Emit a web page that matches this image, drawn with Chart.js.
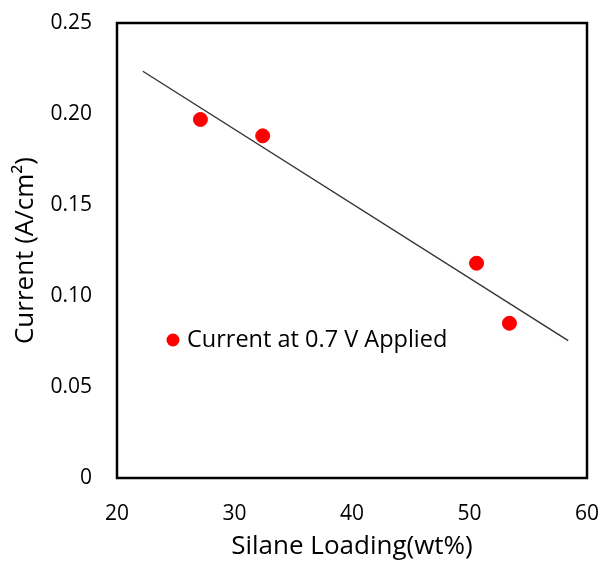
<!DOCTYPE html>
<html>
<head>
<meta charset="utf-8">
<script src="https://cdn.jsdelivr.net/npm/chart.js@4"></script>
<style>
  html, body { margin: 0; padding: 0; background: #fff; }
  #wrap { width: 599px; height: 562px; }
</style>
</head>
<body>
<div id="wrap"><canvas id="myChart" width="599" height="562"></canvas></div>
<script>
// data
const loading = [27.1, 32.4, 50.6, 53.4];
const current = [0.197, 0.188, 0.118, 0.085];
const trendX = [22.2, 58.4];
const trendY = [0.2235, 0.0755];
const seriesLabel = "Current at 0.7 V Applied";

const FONT = "'Open Sans', 'Noto Sans', sans-serif";

function toPoints(xs, ys) {
  let pts = [];
  xs.forEach((x, i) => {
    pts.push({ x: x, y: ys[i] });
  });
  return pts;
}

// box round the plot area and the legend inside it
const frameAndLegend = {
  id: "frameAndLegend",
  afterDraw(chart) {
    const ctx = chart.ctx;
    const a = chart.chartArea;
    ctx.save();
    ctx.strokeStyle = "#000";
    ctx.lineWidth = 2.5;
    ctx.strokeRect(a.left, a.top, a.right - a.left, a.bottom - a.top);

    const lx = a.left + 56;
    const ly = a.top + 317;
    ctx.fillStyle = "#ff0000";
    ctx.beginPath();
    ctx.arc(lx, ly, 6.5, 0, Math.PI * 2);
    ctx.fill();
    ctx.fillStyle = "#000";
    ctx.font = "23.5px " + FONT;
    ctx.textBaseline = "middle";
    ctx.fillText(chart.data.datasets[0].label, lx + 14, ly);
    ctx.restore();
  },
};

const ctx = document.getElementById("myChart");
const chart = new Chart(ctx, {
  type: "scatter",
  data: {
    datasets: [
      {
        label: seriesLabel,
        data: toPoints(loading, current),
        backgroundColor: "#ff0000",
        borderColor: "#ff0000",
        pointRadius: 7,
        pointHoverRadius: 7,
        order: 1,
      },
      {
        type: "line",
        label: "trend",
        data: toPoints(trendX, trendY),
        borderColor: "#333",
        borderWidth: 1.4,
        pointRadius: 0,
        fill: false,
        order: 2,
      },
    ],
  },
  plugins: [frameAndLegend],
  options: {
    responsive: false,
    animation: false,
    layout: { padding: { top: 23, right: 12, left: 0, bottom: 0 } },
    plugins: {
      legend: { display: false },
      tooltip: { enabled: false },
    },
    scales: {
      x: {
        type: "linear",
        min: 20,
        max: 60,
        ticks: {
          stepSize: 10,
          color: "#000",
          font: { family: FONT, size: 21 },
          padding: 23,
        },
        grid: { display: false, drawTicks: false },
        border: { display: false },
        title: {
          display: true,
          text: "Silane Loading(wt%)",
          color: "#000",
          font: { family: FONT, size: 26 },
          padding: { top: 0, bottom: 0 },
        },
        afterFit(scale) {
          scale.height = 84;
          scale.paddingLeft = 0;
          scale.paddingRight = 0;
        },
      },
      y: {
        min: 0,
        max: 0.25,
        ticks: {
          stepSize: 0.05,
          color: "#000",
          font: { family: FONT, size: 21 },
          padding: 25,
          callback: (v) => (v === 0 ? "0" : v.toFixed(2)),
        },
        grid: { display: false, drawTicks: false },
        border: { display: false },
        title: {
          display: true,
          text: "Current (A/cm²)",
          color: "#000",
          font: { family: FONT, size: 26 },
          padding: { top: 10, bottom: 0 },
        },
        afterFit(scale) {
          scale.width = 117;
          scale.paddingTop = 0;
          scale.paddingBottom = 0;
        },
      },
    },
  },
});
</script>
</body>
</html>
